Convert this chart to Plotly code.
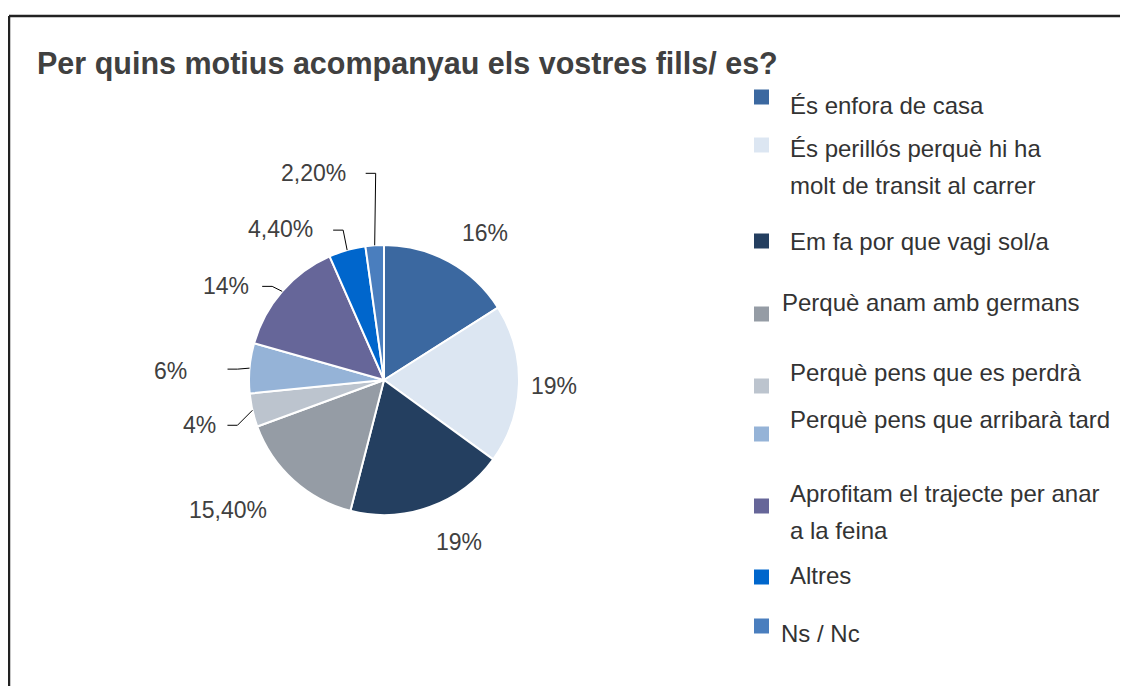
import math
import plotly.graph_objects as go

# ---------------- data ----------------
categories = [
    "És enfora de casa",
    "És perillós perquè hi ha<br>molt de transit al carrer",
    "Em fa por que vagi sol/a",
    "Perquè anam amb germans",
    "Perquè pens que es perdrà",
    "Perquè pens que arribarà tard",
    "Aprofitam el trajecte per anar<br>a la feina",
    "Altres",
    "Ns / Nc",
]
values = [16, 19, 19, 15.4, 4, 6, 14, 4.4, 2.2]
value_labels = ["16%", "19%", "19%", "15,40%", "4%", "6%", "14%", "4,40%", "2,20%"]
colors = ["#3B68A0", "#DCE6F2", "#243F60", "#959CA5", "#BCC4CE",
          "#95B3D7", "#666699", "#0066CC", "#4A7EBE"]
title_text = "Per quins motius acompanyau els vostres fills/ es?"

# ---------------- layout helpers ----------------
W, H = 1128, 686
OFF = 8  # page body margin
CX, CY, R = 384, 380, 135


def px(x):
    return (x - OFF) / W


def py(y):
    return 1 - (y - OFF) / H


LABEL_R = 180
label_nudge = [(14, 11), (-10, 0), (14, -7), (-35, -4), (-9, 5),
               (-34, 7), (-22, 24), (-54, 22), (-58, -27)]
leader_elbow = [None, None, None, None, (-15, 15), (-12, 1), (-10, -5),
                (-4, -20), (1, -72)]
LEADER_TAIL = 10

legend_sq_y = [97, 145, 241, 314, 386, 434, 506, 577, 626]
legend_text_y = [106, 148, 242, 302, 372, 420, 493, 575, 633]
legend_text_x = [788, 788, 788, 780, 788, 788, 788, 788, 779]
LEGEND_LINE_GAP = 37
SQ_X0, SQ = 754, 15

FONT = "Liberation Sans, Arial, sans-serif"

fig = go.Figure(go.Pie(
    values=values,
    labels=[c.replace("<br>", " ") for c in categories],
    sort=False,
    direction="clockwise",
    rotation=0,
    marker=dict(colors=colors, line=dict(color="white", width=2)),
    textinfo="none",
    hoverinfo="label+percent",
    showlegend=False,
    domain=dict(x=[px(CX - R), px(CX + R)], y=[py(CY + R), py(CY - R)]),
))

annotations = []
shapes = []

total = sum(values)
cum = 0.0
for i, v in enumerate(values):
    mid = (cum + v / 2) / total * 2 * math.pi
    cum += v
    s, c = math.sin(mid), math.cos(mid)
    bx = CX + LABEL_R * s + label_nudge[i][0]
    by = CY - LABEL_R * c + label_nudge[i][1]
    annotations.append(dict(
        x=px(bx), y=py(by), xref="paper", yref="paper",
        text=value_labels[i], showarrow=False,
        xanchor="center", yanchor="middle",
        font=dict(family=FONT, size=23, color="#404040"),
    ))
    if leader_elbow[i] is not None:
        ex, ey = CX + R * s, CY - R * c
        elx, ely = ex + leader_elbow[i][0], ey + leader_elbow[i][1]
        path = (f"M {px(ex)},{py(ey)} L {px(elx)},{py(ely)} "
                f"L {px(elx - LEADER_TAIL)},{py(ely)}")
        shapes.append(dict(type="path", xref="paper", yref="paper", path=path,
                           line=dict(color="#000000", width=1)))

# title
annotations.append(dict(
    x=px(35), y=py(63), xref="paper", yref="paper", text=f"<b>{title_text}</b>",
    showarrow=False, xanchor="left", yanchor="middle",
    font=dict(family=FONT, size=30.5, color="#404040"),
))

# legend
for i, cat in enumerate(categories):
    shapes.append(dict(
        type="rect", xref="paper", yref="paper",
        x0=px(SQ_X0), x1=px(SQ_X0 + SQ),
        y0=py(legend_sq_y[i] + SQ / 2), y1=py(legend_sq_y[i] - SQ / 2),
        fillcolor=colors[i], line=dict(width=0),
    ))
    for j, line in enumerate(cat.split("<br>")):
        annotations.append(dict(
            x=px(legend_text_x[i]), y=py(legend_text_y[i] + j * LEGEND_LINE_GAP),
            xref="paper", yref="paper", text=line, showarrow=False,
            xanchor="left", yanchor="middle",
            font=dict(family=FONT, size=24, color="#333333"),
        ))

# frame (top and left borders)
shapes.append(dict(type="line", xref="paper", yref="paper",
                   x0=px(9), x1=1, y0=py(16), y1=py(16),
                   line=dict(color="#222222", width=2.5)))
shapes.append(dict(type="line", xref="paper", yref="paper",
                   x0=px(9), x1=px(9), y0=py(16), y1=0,
                   line=dict(color="#222222", width=2.5)))

fig.update_layout(
    width=W, height=H,
    margin=dict(l=0, r=0, t=0, b=0),
    paper_bgcolor="white",
    plot_bgcolor="white",
    annotations=annotations,
    shapes=shapes,
)

fig.write_html("out.html")
